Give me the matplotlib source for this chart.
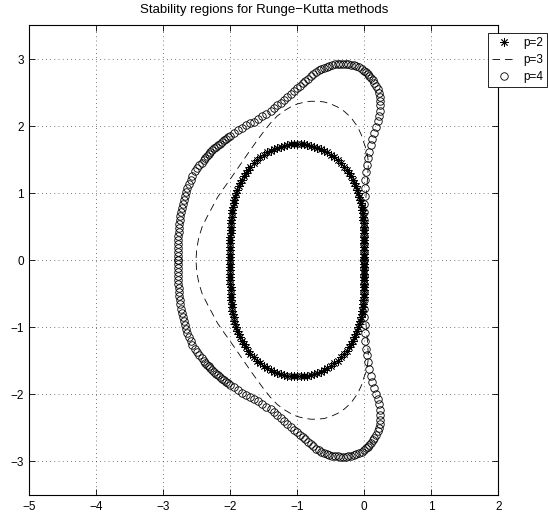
import matplotlib
matplotlib.use('Agg')
import matplotlib.pyplot as plt

plt.rcParams['font.family'] = ['Liberation Sans', 'DejaVu Sans']

# boundary points (upper half, lower half mirrored)
p2_x = [0, 0, 0, 0, -0.0002, -0.0005, -0.001, -0.002, -0.003, -0.005, -0.007, -0.01,
        -0.014, -0.019, -0.025, -0.032, -0.04, -0.05, -0.062, -0.075, -0.09, -0.107,
        -0.126, -0.148, -0.173, -0.2, -0.232,
        -0.265, -0.3, -0.35, -0.4, -0.45, -0.5, -0.55, -0.6, -0.65, -0.7, -0.75, -0.8,
        -0.85, -0.9, -0.95, -1.0,
        -1.05, -1.1, -1.15, -1.2, -1.25, -1.3, -1.35, -1.4, -1.45, -1.5, -1.55, -1.6,
        -1.65, -1.7, -1.735,
        -1.768, -1.8, -1.827, -1.852, -1.874, -1.893, -1.91, -1.925, -1.938, -1.95,
        -1.96, -1.968, -1.975, -1.981, -1.986, -1.99, -1.993, -1.995, -1.997, -1.998,
        -1.999, -1.9995, -1.9998, -2.0, -2.0, -2.0, -2.0]
p2_y_up = [0, 0.05, 0.1, 0.15, 0.2, 0.25, 0.3, 0.35, 0.4, 0.45, 0.5, 0.55,
           0.6, 0.65, 0.7, 0.75, 0.8, 0.85, 0.9, 0.95, 1.0, 1.05,
           1.1, 1.15, 1.2, 1.25, 1.3,
           1.35, 1.392, 1.448, 1.497, 1.539, 1.575, 1.607, 1.635, 1.659, 1.679, 1.695, 1.709,
           1.719, 1.726, 1.731, 1.732,
           1.731, 1.726, 1.719, 1.709, 1.695, 1.679, 1.659, 1.635, 1.607, 1.575, 1.539, 1.497,
           1.448, 1.392, 1.35,
           1.3, 1.25, 1.2, 1.15, 1.1, 1.05, 1.0, 0.95, 0.9, 0.85,
           0.8, 0.75, 0.7, 0.65, 0.6, 0.55, 0.5, 0.45, 0.4, 0.35,
           0.3, 0.25, 0.2, 0.15, 0.1, 0.05, 0]
p2_y_low = [0, -0.05, -0.1, -0.15, -0.2, -0.25, -0.3, -0.35, -0.4, -0.45, -0.5, -0.55,
            -0.6, -0.65, -0.7, -0.75, -0.8, -0.85, -0.9, -0.95, -1.0, -1.05,
            -1.1, -1.15, -1.2, -1.25, -1.3,
            -1.35, -1.392, -1.448, -1.497, -1.539, -1.575, -1.607, -1.635, -1.659, -1.679, -1.695, -1.709,
            -1.719, -1.726, -1.731, -1.732,
            -1.731, -1.726, -1.719, -1.709, -1.695, -1.679, -1.659, -1.635, -1.607, -1.575, -1.539, -1.497,
            -1.448, -1.392, -1.35,
            -1.3, -1.25, -1.2, -1.15, -1.1, -1.05, -1.0, -0.95, -0.9, -0.85,
            -0.8, -0.75, -0.7, -0.65, -0.6, -0.55, -0.5, -0.45, -0.4, -0.35,
            -0.3, -0.25, -0.2, -0.15, -0.1, -0.05, 0]

p3_x = [0, 0.001, 0.005, 0.014, 0.029, 0.047, 0.059, 0.056, 0.042, 0.013,
        0.0, -0.04, -0.1, -0.2, -0.3, -0.4, -0.5, -0.6, -0.7, -0.8,
        -0.9, -1.0, -1.1, -1.2, -1.3, -1.4, -1.5, -1.6, -1.7, -1.8,
        -1.9, -2.0, -2.1, -2.19, -2.27, -2.35, -2.42, -2.47, -2.5, -2.513]
p3_y_up = [0, 0.3, 0.6, 0.8, 1.0, 1.2, 1.4, 1.5, 1.6, 1.7,
           1.732, 1.86, 1.99, 2.13, 2.22, 2.285, 2.33, 2.36, 2.37, 2.37,
           2.355, 2.33, 2.285, 2.225, 2.15, 2.045, 1.92, 1.785, 1.645, 1.5,
           1.355, 1.21, 1.07, 0.94, 0.79, 0.64, 0.5, 0.34, 0.18, 0]
p3_y_low = [0, -0.3, -0.6, -0.8, -1.0, -1.2, -1.4, -1.5, -1.6, -1.7,
            -1.732, -1.86, -1.99, -2.13, -2.22, -2.285, -2.33, -2.36, -2.37, -2.37,
            -2.355, -2.33, -2.285, -2.225, -2.15, -2.045, -1.92, -1.785, -1.645, -1.5,
            -1.355, -1.21, -1.07, -0.94, -0.79, -0.64, -0.5, -0.34, -0.18, 0]

p4_x = [0, 0, 0, 0, 0, 0, 0.001, 0.002, 0.004, 0.009, 0.017, 0.027, 0.04,
        0.055, 0.075, 0.097, 0.122, 0.15, 0.178, 0.202, 0.221, 0.233, 0.238,
        0.237, 0.232, 0.221, 0.203, 0.178, 0.152, 0.125, 0.1, 0.075, 0.048, 0.022, 0.0,
        -0.04, -0.08, -0.12, -0.16, -0.2, -0.24, -0.28, -0.32, -0.36, -0.4, -0.44,
        -0.48, -0.52, -0.56, -0.6, -0.64, -0.68, -0.72, -0.76, -0.8, -0.84, -0.88,
        -0.92, -0.96, -1.0,
        -1.05, -1.1, -1.15, -1.2, -1.25, -1.3, -1.35, -1.4, -1.46, -1.52, -1.58,
        -1.64, -1.7, -1.76, -1.82, -1.88, -1.94,
        -2.0, -2.03, -2.06, -2.09, -2.12, -2.15, -2.18, -2.21, -2.24, -2.27,
        -2.3, -2.325, -2.35, -2.375, -2.4, -2.43, -2.46, -2.49, -2.52,
        -2.565, -2.594, -2.618, -2.64, -2.661, -2.679, -2.695, -2.709, -2.722, -2.734,
        -2.744, -2.753, -2.761, -2.767, -2.772, -2.777, -2.78, -2.782, -2.784, -2.785,
        -2.785, -2.785]
p4_y_up = [0, 0.12, 0.24, 0.36, 0.48, 0.6, 0.72, 0.84, 0.96, 1.08, 1.2, 1.32, 1.42,
           1.52, 1.62, 1.72, 1.81, 1.9, 1.99, 2.07, 2.15, 2.23, 2.31,
           2.38, 2.44, 2.5, 2.55, 2.6, 2.645, 2.685, 2.72, 2.75, 2.78, 2.805, 2.828,
           2.855, 2.877, 2.893, 2.906, 2.916, 2.923, 2.928, 2.93, 2.929, 2.926, 2.92,
           2.912, 2.901, 2.888, 2.872, 2.853, 2.832, 2.808, 2.775, 2.742, 2.707, 2.672,
           2.637, 2.602, 2.567,
           2.524, 2.48, 2.436, 2.393, 2.35, 2.308, 2.265, 2.222, 2.182, 2.144, 2.105,
           2.068, 2.04, 2.01, 1.977, 1.94, 1.897,
           1.853, 1.832, 1.81, 1.787, 1.764, 1.74, 1.716, 1.691, 1.666, 1.639,
           1.61, 1.583, 1.556, 1.528, 1.5, 1.457, 1.413, 1.37, 1.326,
           1.26, 1.2, 1.14, 1.08, 1.02, 0.96, 0.9, 0.84, 0.78, 0.72,
           0.66, 0.6, 0.54, 0.48, 0.42, 0.36, 0.3, 0.24, 0.18, 0.12,
           0.06, 0.0]
p4_y_low = [0, -0.12, -0.24, -0.36, -0.48, -0.6, -0.72, -0.84, -0.96, -1.08, -1.2, -1.32, -1.42,
            -1.52, -1.62, -1.72, -1.81, -1.9, -1.99, -2.07, -2.15, -2.23, -2.31,
            -2.38, -2.44, -2.5, -2.55, -2.6, -2.645, -2.685, -2.72, -2.75, -2.78, -2.805, -2.828,
            -2.855, -2.877, -2.893, -2.906, -2.916, -2.923, -2.928, -2.93, -2.929, -2.926, -2.92,
            -2.912, -2.901, -2.888, -2.872, -2.853, -2.832, -2.808, -2.775, -2.742, -2.707, -2.672,
            -2.637, -2.602, -2.567,
            -2.524, -2.48, -2.436, -2.393, -2.35, -2.308, -2.265, -2.222, -2.182, -2.144, -2.105,
            -2.068, -2.04, -2.01, -1.977, -1.94, -1.897,
            -1.853, -1.832, -1.81, -1.787, -1.764, -1.74, -1.716, -1.691, -1.666, -1.639,
            -1.61, -1.583, -1.556, -1.528, -1.5, -1.457, -1.413, -1.37, -1.326,
            -1.26, -1.2, -1.14, -1.08, -1.02, -0.96, -0.9, -0.84, -0.78, -0.72,
            -0.66, -0.6, -0.54, -0.48, -0.42, -0.36, -0.3, -0.24, -0.18, -0.12,
            -0.06, 0.0]

labels = ['p=2', 'p=3', 'p=4']

fig = plt.figure(figsize=(5.48, 5.17), dpi=100)
ax = fig.add_axes([0.0535, 0.0426, 0.8558, 0.9081])

ax.plot(p2_x + p2_x, p2_y_up + p2_y_low, ls='none', marker=(8, 2, 0), ms=6,
        mew=0.6, color='k', label=labels[0])
ax.plot(p3_x, p3_y_up, color='k', lw=0.6, ls=(0, (9, 6)), label=labels[1])
ax.plot(p3_x, p3_y_low, color='k', lw=0.6, ls=(0, (9, 6)))
ax.plot(p4_x + p4_x, p4_y_up + p4_y_low, ls='none', marker='o', ms=5.4,
        mfc='none', mec='k', mew=0.6, label=labels[2])

ax.set_xlim(-5, 2)
ax.set_ylim(-3.5, 3.5)
ax.set_xticks(range(-5, 3))
ax.set_yticks(range(-3, 4))
ax.grid(True, color='k', ls=(0, (1, 5)), lw=0.5)
ax.tick_params(direction='in', top=True, right=True, length=4, width=0.6,
               labelsize=8.5, pad=4)
for s in ax.spines.values():
    s.set_linewidth(0.8)
ax.set_title('Stability regions for Runge\u2212Kutta methods', fontsize=9.5, pad=9)

leg = ax.legend(loc='upper left', bbox_to_anchor=(0.8905, 0.937),
                bbox_transform=fig.transFigure, fontsize=8.5, fancybox=False,
                framealpha=1, edgecolor='k', borderaxespad=0, borderpad=0.35,
                handlelength=2.0, handletextpad=0.6, labelspacing=0.45)
leg.get_frame().set_linewidth(0.6)

fig.savefig('out.png', dpi=100)
